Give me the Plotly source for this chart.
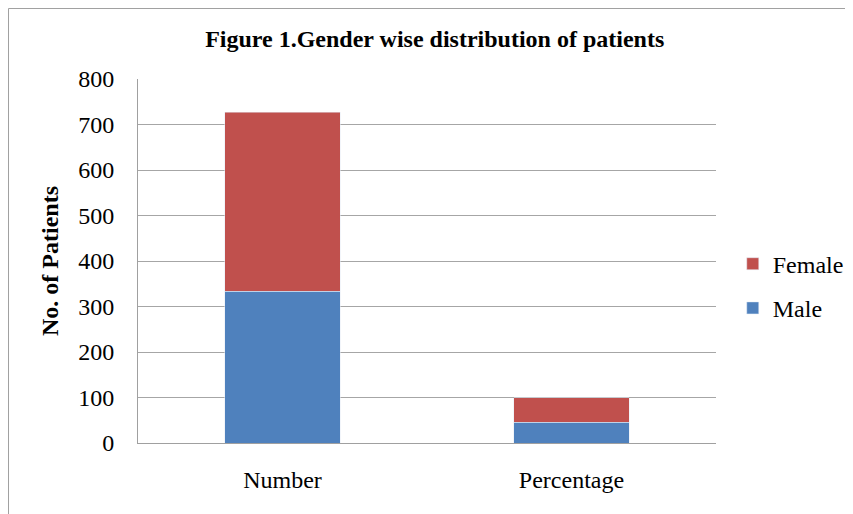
import plotly.graph_objects as go

categories = ["Number", "Percentage"]
male = [333, 45.8]
female = [394, 54.2]

font = "Liberation Serif, Times New Roman, serif"

fig = go.Figure()
fig.add_trace(go.Bar(name="Male", x=categories, y=male, marker_color="#4F81BD", width=0.4,
                     legendgroup="m", legendrank=2))
fig.add_trace(go.Bar(name="Female", x=categories, y=female, marker_color="#C0504D", width=0.4,
                     legendgroup="f", legendrank=1))

fig.update_layout(
    barmode="stack",
    width=845, height=506,
    margin=dict(l=130, r=137, t=71, b=71, autoexpand=False),
    paper_bgcolor="white", plot_bgcolor="white",
    font=dict(family=font, size=24, color="black"),
    title=dict(text="<b>Figure 1.Gender wise distribution of patients</b>",
               x=0.505, xanchor="center", y=0.94, yanchor="middle",
               font=dict(family=font, size=24, color="black")),
    legend=dict(traceorder="grouped", x=1.029, xanchor="left", y=0.431, yanchor="middle",
                font=dict(family=font, size=24), itemwidth=30, tracegroupgap=10),
    shapes=[dict(type="rect", xref="paper", yref="paper", x0=-0.224, x1=1.6, y0=-0.6, y1=1.1937,
                 line=dict(color="#a0a0a0", width=1), fillcolor="rgba(0,0,0,0)", layer="below")],
)
fig.update_xaxes(showline=True, linecolor="#a0a0a0", linewidth=1, ticks="",
                 tickfont=dict(size=24), ticklabelstandoff=15)
fig.update_yaxes(range=[0, 800], dtick=100, showgrid=True, gridcolor="#a6a6a6", gridwidth=1,
                 ticks="", showline=True, linecolor="#a0a0a0",
                 zeroline=False, tickfont=dict(size=24), ticklabelstandoff=18,
                 title=dict(text="<b>No. of Patients</b>", font=dict(family=font, size=24), standoff=12))

fig.write_html("out.html")
